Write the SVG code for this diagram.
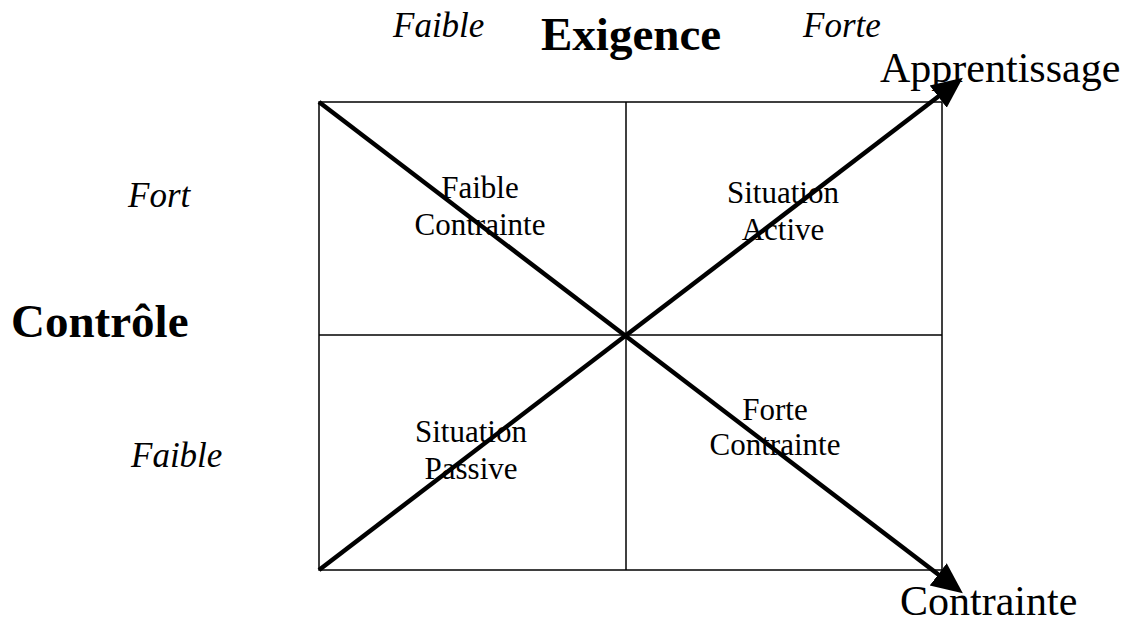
<svg xmlns="http://www.w3.org/2000/svg" width="1135" height="624" viewBox="0 0 1135 624">
<style>
.grid{fill:none;stroke:#000;stroke-width:1.5}
.diag{stroke:#000;stroke-width:4.5;fill:none}
text{font-family:"Liberation Serif","Times New Roman",serif;fill:#000}
.it{font-style:italic;font-size:35px}
.bd{font-weight:bold;font-size:47px}
.big{font-size:42px}
.cell{font-size:31px;text-anchor:middle}
</style>
<defs>
<marker id="ah" markerUnits="userSpaceOnUse" markerWidth="32" markerHeight="30" viewBox="0 0 32 30" refX="1" refY="15" orient="auto">
<path d="M0,1 L31,15 L0,29 Z" fill="#000"/>
</marker>
</defs>
<g id="grid">
<rect class="grid" x="319" y="102" width="623" height="468"/>
<line class="grid" x1="626" y1="102" x2="626" y2="570"/>
<line class="grid" x1="319" y1="335" x2="942" y2="335"/>
</g>
<g id="connectors">
<line class="diag" x1="319" y1="570" x2="939" y2="96" marker-end="url(#ah)"/>
<line class="diag" x1="319" y1="102" x2="939" y2="575" marker-end="url(#ah)"/>
</g>
<g id="cell-faible-contrainte"><text class="cell" x="480" y="198">Faible</text><text class="cell" x="480" y="235">Contrainte</text></g>
<g id="cell-situation-active"><text class="cell" x="783" y="203">Situation</text><text class="cell" x="783" y="240">Active</text></g>
<g id="cell-situation-passive"><text class="cell" x="471" y="442">Situation</text><text class="cell" x="471" y="479">Passive</text></g>
<g id="cell-forte-contrainte"><text class="cell" x="775" y="420">Forte</text><text class="cell" x="775" y="455">Contrainte</text></g>
<g id="labels">
<text class="it" x="393" y="37">Faible</text>
<text class="bd" x="541" y="50">Exigence</text>
<text class="it" x="803" y="37">Forte</text>
<text class="big" x="880" y="82">Apprentissage</text>
<text class="big" x="900" y="615">Contrainte</text>
<text class="it" x="128" y="207">Fort</text>
<text class="bd" x="11" y="337">Contrôle</text>
<text class="it" x="131" y="467">Faible</text>
</g>
</svg>
